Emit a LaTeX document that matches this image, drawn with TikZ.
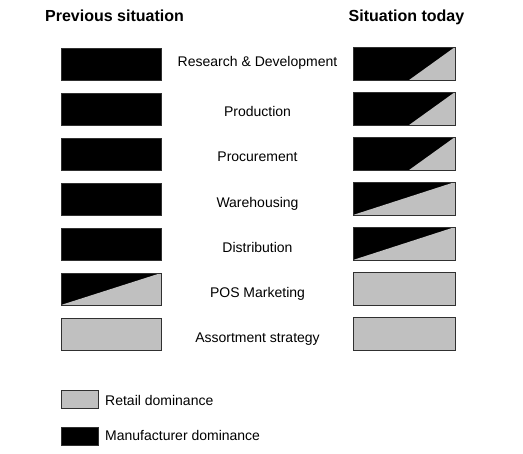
\documentclass[tikz,border=0pt]{standalone}
\usepackage{fontspec}
\setmainfont{Liberation Sans}
\usetikzlibrary{calc}
\definecolor{retail}{HTML}{C0C0C0}
\definecolor{edge}{HTML}{303030}
\tikzset{
  box/.style={draw=edge, line width=0.9pt, minimum width=100pt, minimum height=32pt, inner sep=0pt, outer sep=0pt},
  mfr/.style={box, fill=black},
  ret/.style={box, fill=retail},
  lbl/.style={font=\fontsize{14pt}{16pt}\selectfont, inner sep=0pt, anchor=base},
  title/.style={font=\fontsize{16pt}{18pt}\selectfont\bfseries, inner sep=0pt, anchor=base},
  legbox/.style={draw=edge, line width=0.9pt, minimum width=37pt, minimum height=18pt, inner sep=0pt, outer sep=0pt},
}
\newcommand{\splitbox}[2]{% node, start fraction
  \fill[retail] ($(#1.south west)!#2!(#1.south east)$) -- (#1.south east) -- (#1.north east) -- cycle;
  \draw[edge, line width=0.9pt] (#1.south west) rectangle (#1.north east);
}
\begin{document}
\begin{tikzpicture}[x=1pt,y=-1pt]
\useasboundingbox (0,0) rectangle (523,454);
% titles
\node[title] (tl) at (114.5,21.5) {Previous situation};
\node[title] (tr) at (406.5,21.5) {Situation today};
% left column
\node[mfr] (l1) at (111,64) {};
\node[mfr] (l2) at (111,109) {};
\node[mfr] (l3) at (111,154) {};
\node[mfr] (l4) at (111,199) {};
\node[mfr] (l5) at (111,244) {};
\node[mfr] (l6) at (111,289) {};
\node[ret] (l7) at (111,334) {};
\splitbox{l6}{0}
% right column
\node[mfr,minimum width=102pt,minimum height=33pt] (r1) at (404,63.5) {};
\node[mfr,minimum width=102pt,minimum height=33pt] (r2) at (404,108.5) {};
\node[mfr,minimum width=102pt,minimum height=33pt] (r3) at (404,153.5) {};
\node[mfr,minimum width=102pt,minimum height=33pt] (r4) at (404,198.5) {};
\node[mfr,minimum width=102pt,minimum height=33pt] (r5) at (404,243.5) {};
\node[ret,minimum width=102pt,minimum height=33pt] (r6) at (404,288.5) {};
\node[ret,minimum width=102pt,minimum height=33pt] (r7) at (404,333.5) {};
\splitbox{r1}{0.55}
\splitbox{r2}{0.55}
\splitbox{r3}{0.55}
\splitbox{r4}{0}
\splitbox{r5}{0}
% labels
\node[lbl] (c1) at (257.5,67) {Research \& Development};
\node[lbl] (c2) at (257.5,117) {Production};
\node[lbl] (c3) at (257.5,162) {Procurement};
\node[lbl] (c4) at (257.5,208) {Warehousing};
\node[lbl] (c5) at (257.5,253) {Distribution};
\node[lbl] (c6) at (257.5,298) {POS Marketing};
\node[lbl] (c7) at (257.5,343) {Assortment strategy};
% legend
\node[legbox, fill=retail] (lg1) at (79.5,399.5) {};
\node[legbox, fill=black] (lg2) at (79.5,436) {};
\node[lbl, anchor=base west] (lt1) at (105,406) {Retail dominance};
\node[lbl, anchor=base west] (lt2) at (105,441) {Manufacturer dominance};
\end{tikzpicture}
\end{document}
